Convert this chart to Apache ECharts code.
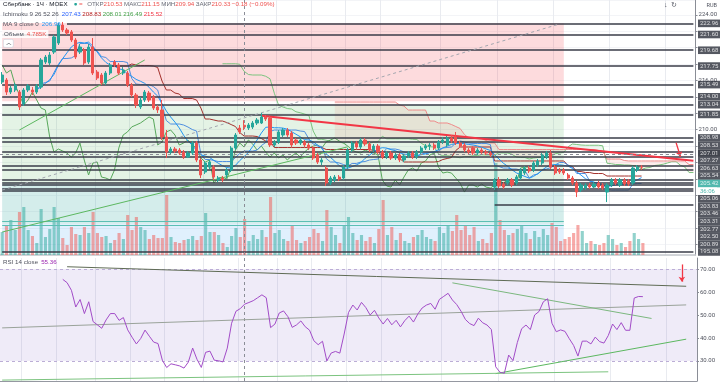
<!DOCTYPE html>
<html><head><meta charset="utf-8">
<script src="https://cdn.jsdelivr.net/npm/echarts@6.0.0/dist/echarts.min.js"></script>
<style>html,body{margin:0;padding:0;background:#fff;}#chart{width:720px;height:384px;}</style>
</head><body><div id="chart"></div>
<script>
// ---------- DATA ----------
const opens = [215.80,216.05,214.58,214.83,214.58,213.12,214.83,214.83,214.58,215.19,218.24,218.12,
219.46,220.56,222.76,222.15,221.91,220.93,219.46,219.71,218.24,220.07,217.02,216.66,215.68,216.90,218.24,217.88,
216.90,216.90,215.44,214.22,212.76,213.61,214.46,213.97,212.76,212.39,209.10,207.26,207.63,207.51,207.26,206.65,207.14,208.36,206.29,204.82,205.43,205.43,203.85,204.09,204.46,205.07,207.75,210.19,210.53,
210.19,210.31,210.80,210.80,211.54,211.41,208.12,208.49,209.34,209.95,209.58,208.73,208.36,208.49,208.12,207.75,206.90,206.04,205.31,203.48,203.85,204.21,204.09,205.43,207.51,208.36,207.87,208.73,208.24,207.51,207.99,207.26,206.65,207.14,206.53,206.90,206.29,206.78,207.14,206.65,207.26,
207.75,
207.99,208.12,207.75,208.49,208.12,208.97,209.10,208.36,208.12,
207.51,
207.75,207.14,207.51,207.26,207.14,202.99,203.85,203.36,203.48,203.85,203.48,204.09,204.70,205.31,205.07,205.68,205.92,206.65,207.14,205.43,205.07,205.07,204.46,204.09,203.48,202.63,202.87,203.24,
202.99,
203.48,203.24,202.38,203.24,203.85,203.24,203.85,203.73,203.48,205.07,205.43];
const highs = [217.02,216.29,215.32,215.68,214.83,215.07,215.56,215.19,215.56,218.73,219.10,219.46,
221.54,223.00,223.13,222.39,222.15,221.17,220.44,219.95,220.44,221.17,217.27,216.90,217.15,218.12,218.49,218.12,
217.63,217.15,215.68,214.46,213.97,214.83,214.71,214.22,213.00,213.61,209.95,207.87,207.87,207.75,207.51,207.39,208.61,208.61,206.53,206.17,206.29,205.68,204.34,204.34,205.31,207.99,209.58,210.56,211.15,
210.80,211.05,211.41,212.02,211.78,211.66,208.73,209.95,210.19,210.19,209.83,208.97,208.97,208.73,208.36,207.99,207.14,206.53,205.56,204.34,204.46,204.46,205.68,207.75,208.61,208.61,208.97,208.97,208.49,208.24,208.24,207.51,207.39,207.39,207.14,207.14,207.02,207.39,207.39,207.51,207.99,
208.24,
208.36,208.36,208.73,209.10,209.22,209.34,209.71,208.61,208.36,
207.75,
207.99,207.75,207.75,207.51,207.39,204.09,204.21,203.60,204.09,204.09,204.46,205.31,205.56,205.56,206.17,206.41,207.14,207.39,207.51,205.68,205.31,205.31,204.70,204.34,203.73,203.48,203.48,203.48,
203.60,
203.73,203.48,203.48,204.09,204.09,204.09,204.09,203.97,205.56,205.68,205.68];
const lows = [215.56,214.22,214.34,214.58,212.39,212.88,214.58,214.22,214.34,214.95,218.00,217.88,
219.22,220.32,221.91,221.54,220.69,218.61,219.22,217.88,218.00,216.66,216.05,215.44,215.44,216.66,217.63,216.66,
216.66,215.19,213.97,212.63,212.51,213.36,213.36,212.39,212.02,208.73,206.53,207.02,207.14,206.90,206.41,206.53,206.90,206.04,204.09,204.58,205.19,203.85,203.60,203.60,204.09,204.82,207.51,209.46,209.94,
209.95,210.07,210.56,210.68,211.05,207.87,207.87,208.24,209.10,209.10,207.87,208.12,208.12,207.87,207.51,206.29,205.80,205.68,203.12,203.24,203.60,203.73,203.85,205.19,207.26,207.63,207.63,207.99,207.26,207.26,207.02,206.41,206.41,206.29,206.29,206.04,206.04,206.53,206.41,206.41,207.02,
207.51,
207.51,207.51,207.51,208.24,207.87,208.36,208.12,207.75,207.26,
207.02,
206.90,206.90,207.02,206.90,206.65,202.63,202.87,202.75,203.24,202.99,203.24,203.85,204.46,204.70,204.82,205.43,205.68,206.41,205.19,204.46,204.58,204.46,203.85,203.24,201.77,202.38,202.63,202.75,
202.87,
202.75,202.63,201.16,202.99,203.24,202.99,203.12,203.12,203.24,204.82,205.07];
const closes = [216.66,214.58,215.07,215.44,212.76,214.83,215.32,214.58,215.32,218.49,218.85,219.10,
221.30,222.76,222.15,221.78,220.93,218.85,220.07,218.12,220.07,216.90,216.29,215.68,216.90,217.88,217.88,216.90,
217.27,215.44,214.22,213.00,213.61,214.58,213.61,212.63,212.39,209.10,207.26,207.63,207.39,207.14,206.65,207.14,208.36,206.29,204.46,205.92,206.04,204.21,204.09,203.85,205.07,207.75,209.34,209.71,210.33,
210.56,210.80,211.17,211.54,211.29,208.12,208.49,209.71,209.95,209.34,208.12,208.36,208.73,208.12,207.75,206.53,206.04,206.29,203.48,204.09,204.21,203.97,205.43,207.51,208.36,207.87,208.73,208.24,207.51,207.99,207.26,206.65,207.14,206.53,206.90,206.29,206.78,207.14,206.65,207.26,207.75,
207.99,
208.12,207.75,208.49,208.73,208.97,208.61,208.36,207.99,207.51,
207.26,
207.14,207.51,207.26,207.14,206.90,203.85,203.12,202.99,203.85,203.24,204.21,205.07,205.31,204.95,205.92,206.17,206.90,207.14,205.43,204.70,204.82,204.70,204.09,203.48,202.38,203.24,203.24,202.99,
203.36,
202.99,202.87,203.24,203.85,203.48,203.85,203.36,203.36,205.31,205.43,205.42];
// volume, thousands of lots
const volumes = [23,30,35,25,43,48,25,19,12,46,18,26,48,37,17,10,28,21,20,28,22,43,22,18,19,12,15,22,16,40,25,38,28,25,16,20,17,17,60,18,13,12,15,16,19,15,19,42,23,23,20,12,8,19,27,18,36,
14,20,16,25,18,58,22,25,16,14,30,15,12,14,18,26,22,14,45,28,20,12,30,38,22,15,20,14,18,12,26,55,20,28,15,22,14,12,18,20,25,
18,
16,14,28,22,30,24,40,25,30,
20,
28,14,16,12,22,92,35,25,20,22,26,30,22,16,24,18,26,20,32,28,14,16,18,22,30,24,12,14,
11,
10,12,20,16,10,12,8,14,22,16,12];

const levelPrices = [222.96,221.60,219.68,217.75,215.49,214.00,213.04,211.85,208.98,208.53,207.27,206.63,205.54,205.06,203.83,203.46,203.31,202.77,202.50,200.89,195.08];
const levelStarts = [15,0,0,0,0,0,0,0,0,0,0,0,0,0,0,0,0,0,0,114,0];
const priceTickLabels = [224, 216, 210];
const rsiTickLabels = [70, 60, 50, 40, 30];
const zoneBounds = [[223.00,213.45],[213.04,203.40],[203.40,198.50],[198.50,195.08]];
const zoneEndBar = 130;
const zoneEdges = [198.78, 198.28];
const lastPrice = 205.42;
const countdown = '36:06';
const crosshairBar = 56;
const crosshairPrice = 207.01;
const gridTicks = [5,13,22,30,38,47,55,64,72,80,88,102,115,128,141,154];
const emptyBarsAhead = 12;
// trend lines [bar, price] -> [bar, price]
const redTrend = [[60, 211.70],[160, 206.20]];
const dashedTrend = [[0, 202.63],[129, 222.88]];
const greenTrends = [[[0, 197.50],[80, 207.90]], [[4, 209.95],[33, 218.49]]];
const redArrow = [[156, 208.40],[157, 206.70]];
// RSI pane lines [bar, rsi]
const rsiTrends = [[[15,71.0],[158,62.5]], [[0,44.4],[158,54.4]], [[104,64.0],[150,48.5]], [[114,24.5],[158,39.5]], [[0,21.7],[140,25.3]]];
const rsiArrow = [[157,72.0],[157,64.5]];

// ---------- BUILD ----------
const FONT = 'Roboto, "Liberation Sans", Arial, sans-serif';
const N = closes.length;
const T = N + emptyBarsAhead;
const cats = Array.from({length: T}, (_, i) => String(i + 1));
const candleData = opens.map((o, i) => [o, closes[i], lows[i], highs[i]]);
const volData = volumes.map((v, i) => ({value: v, itemStyle: {color: closes[i] >= opens[i] ? 'rgba(38,166,154,0.5)' : 'rgba(239,83,80,0.5)'}}));

function midHL(i, n) {
  if (i < n - 1) return null;
  let h = -Infinity, l = Infinity;
  for (let k = i - n + 1; k <= i; k++) { h = Math.max(h, highs[k]); l = Math.min(l, lows[k]); }
  return (h + l) / 2;
}
const nul = () => new Array(T).fill(null);
const tenkan = nul(), kijun = nul(), spanA = nul(), spanB = nul(), chikou = nul(), ma9 = nul(), rsi = nul();
for (let i = 0; i < N; i++) {
  tenkan[i] = midHL(i, 9); kijun[i] = midHL(i, 26);
  if (i + 26 < T) {
    spanA[i + 26] = (tenkan[i] != null && kijun[i] != null) ? (tenkan[i] + kijun[i]) / 2 : null;
    spanB[i + 26] = midHL(i, 52);
  }
  if (i >= 26) chikou[i - 26] = closes[i];
  if (i >= 8) { let s = 0; for (let k = i - 8; k <= i; k++) s += closes[k]; ma9[i] = s / 9; }
}
{
  let ag = 0, al = 0;
  for (let i = 1; i <= 14; i++) { const d = closes[i] - closes[i - 1]; if (d > 0) ag += d; else al -= d; }
  ag /= 14; al /= 14; rsi[14] = 100 - 100 / (1 + ag / al);
  for (let i = 15; i < N; i++) {
    const d = closes[i] - closes[i - 1];
    ag = (ag * 13 + Math.max(d, 0)) / 14; al = (al * 13 + Math.max(-d, 0)) / 14;
    rsi[i] = al === 0 ? 100 : 100 - 100 / (1 + ag / al);
  }
}
const cloudBase = nul(), cloudUp = nul(), cloudDn = nul();
for (let i = 0; i < T; i++) {
  if (spanA[i] != null && spanB[i] != null) {
    cloudBase[i] = Math.min(spanA[i], spanB[i]);
    cloudUp[i] = spanA[i] > spanB[i] ? spanA[i] - spanB[i] : 0;
    cloudDn[i] = spanB[i] > spanA[i] ? spanB[i] - spanA[i] : 0;
  }
}

const seg = (a, b, style) => [{coord: a, lineStyle: style}, {coord: b}];
const mainMarks = [];
levelPrices.forEach((p, k) => mainMarks.push(seg([levelStarts[k], p], [T - 1, p], {color: '#3a3d48', width: 1.5, type: 'solid'})));
zoneEdges.forEach(p => mainMarks.push(seg([0, p], [zoneEndBar, p], {color: '#5cbfb4', width: 1, type: 'solid'})));
mainMarks.push(seg(dashedTrend[0], dashedTrend[1], {color: '#a3a6af', width: 1, type: [3, 3]}));
greenTrends.forEach(t => mainMarks.push(seg(t[0], t[1], {color: '#5cb860', width: 1, type: 'solid'})));
mainMarks.push(seg(redTrend[0], redTrend[1], {color: '#f23645', width: 2, type: 'solid'}));
mainMarks.push([{coord: redArrow[0], symbol: 'none', lineStyle: {color: '#f23645', width: 1.3, type: 'solid'}}, {coord: redArrow[1], symbol: 'arrow', symbolSize: 5}]);
mainMarks.push({xAxis: crosshairBar, lineStyle: {color: '#8a8d96', width: 1, type: [3, 3]}});
mainMarks.push({yAxis: crosshairPrice, lineStyle: {color: '#8a8d96', width: 1, type: [3, 3]}});

const rsiStyles = ['#5f6b55', '#9aa39a', '#7cb87f', '#5cb860', '#7cc47f'];
const rsiMarks = [
  {yAxis: 70, lineStyle: {color: '#bcaed6', type: [3, 3], width: 1}},
  {yAxis: 30, lineStyle: {color: '#bcaed6', type: [3, 3], width: 1}},
  {xAxis: crosshairBar, lineStyle: {color: '#8a8d96', width: 1, type: [3, 3]}}
];
rsiTrends.forEach((t, k) => rsiMarks.push(seg(t[0], t[1], {color: rsiStyles[k], width: 1, type: 'solid'})));
rsiMarks.push([{coord: rsiArrow[0], symbol: 'none', lineStyle: {color: '#f23645', width: 1.3, type: 'solid'}}, {coord: rsiArrow[1], symbol: 'arrow', symbolSize: 5}]);

// price-scale labels: levels, crosshair, last price, countdown
const labelItems = levelPrices.map(p => ({price: p, text: p.toFixed(2), bg: '#2a2e39', fg: '#ffffff', bias: 0}));
labelItems.push({price: crosshairPrice, text: crosshairPrice.toFixed(2), bg: '#131722', fg: '#ffffff', bias: -4});
labelItems.push({price: lastPrice, text: lastPrice.toFixed(2), bg: '#26a69a', fg: '#ffffff', bias: 0});
labelItems.push({price: lastPrice, text: countdown, bg: '#ffffff', fg: '#26a69a', bias: 0.5});
const priceLabelData = labelItems.map(it => ({value: [T - 1, it.price], label: {formatter: it.text, backgroundColor: it.bg, color: it.fg}}));
const labelY = new Array(labelItems.length).fill(null);
const LABEL_H = 7.6;

const lineS = (name, data, color, width) => ({name, type: 'line', xAxisIndex: 0, yAxisIndex: 0, data, symbol: 'none', silent: true, z: 3, lineStyle: {color, width: width || 1}, connectNulls: false});
const splitInt = (i) => gridTicks.indexOf(i) >= 0;

const option = {
  animation: false,
  backgroundColor: '#ffffff',
  textStyle: {fontFamily: FONT},
  grid: [
    {left: 0, right: 23, top: 0, height: 255},
    {left: 0, right: 23, top: 0, height: 255},
    {left: 0, right: 23, top: 258, height: 123}
  ],
  xAxis: [
    {type: 'category', gridIndex: 0, data: cats, boundaryGap: true, axisLabel: {show: false}, axisTick: {show: false},
     axisLine: {show: true, lineStyle: {color: '#c5c7cd', width: 1.5}}, splitLine: {show: true, interval: splitInt, lineStyle: {color: '#e9ebf0'}}},
    {type: 'category', gridIndex: 1, data: cats, boundaryGap: true, show: false},
    {type: 'category', gridIndex: 2, data: cats, boundaryGap: true, axisLabel: {show: false}, axisTick: {show: false},
     axisLine: {show: true, lineStyle: {color: '#9598a1'}}, splitLine: {show: true, interval: splitInt, lineStyle: {color: '#e9ebf0'}}}
  ],
  yAxis: [
    {type: 'value', gridIndex: 0, position: 'right', min: 194.7, max: 225.81, splitNumber: 15,
     axisLine: {show: true, lineStyle: {color: '#8a8d96'}}, axisTick: {show: true, length: 2, lineStyle: {color: '#8a8d96'}},
     axisLabel: {fontSize: 6, color: '#50535e', margin: 3, fontFamily: FONT, formatter: v => (priceTickLabels.some(t => Math.abs(t - v) < 1e-6) ? v.toFixed(2) : ''), showMinLabel: false, showMaxLabel: false},
     splitLine: {show: true, lineStyle: {color: '#f3f4f7'}}},
    {type: 'value', gridIndex: 1, min: 0, max: 255, show: false},
    {type: 'value', gridIndex: 2, position: 'right', min: 21.3, max: 74.8, splitNumber: 5,
     axisLine: {show: true, lineStyle: {color: '#8a8d96'}}, axisTick: {show: true, length: 2, lineStyle: {color: '#8a8d96'}},
     axisLabel: {fontSize: 6, color: '#50535e', margin: 3, fontFamily: FONT, formatter: v => (rsiTickLabels.some(t => Math.abs(t - v) < 1e-6) ? v.toFixed(2) : ''), showMinLabel: false, showMaxLabel: false},
     splitLine: {show: false}}
  ],
  series: [
    {type: 'line', xAxisIndex: 0, yAxisIndex: 0, data: closes, symbol: 'none', silent: true, z: 1, lineStyle: {opacity: 0},
     markArea: {silent: true, data: zoneBounds.map((zb, k) => [{coord: [0, zb[0]], itemStyle: {color: ['rgba(242,54,69,0.18)', 'rgba(76,175,80,0.15)', 'rgba(38,166,154,0.2)', 'rgba(33,150,243,0.14)'][k]}}, {coord: [zoneEndBar, zb[1]]}])}},
    {type: 'line', xAxisIndex: 0, yAxisIndex: 0, data: cloudBase, stack: 'cloud', symbol: 'none', silent: true, z: 2, lineStyle: {opacity: 0}},
    {type: 'line', xAxisIndex: 0, yAxisIndex: 0, data: cloudUp, stack: 'cloud', symbol: 'none', silent: true, z: 2, lineStyle: {opacity: 0}, areaStyle: {color: 'rgba(67,160,71,0.13)'}},
    {type: 'line', xAxisIndex: 0, yAxisIndex: 0, data: cloudDn, stack: 'cloud', symbol: 'none', silent: true, z: 2, lineStyle: {opacity: 0}, areaStyle: {color: 'rgba(244,67,54,0.13)'}},
    {type: 'bar', xAxisIndex: 1, yAxisIndex: 1, data: volData, barCategoryGap: '28%', silent: true, z: 1},
    lineS('spanA', spanA, '#7cc47f', 1),
    lineS('spanB', spanB, '#ef8a8a', 1),
    lineS('chikou', chikou, '#58a85b', 1),
    lineS('kijun', kijun, '#a3302c', 1),
    lineS('tenkan', tenkan, '#4f8fe0', 1),
    lineS('ma9', ma9, '#2196f3', 1),
    {type: 'candlestick', xAxisIndex: 0, yAxisIndex: 0, data: candleData, barWidth: '62%', z: 5, silent: true,
     itemStyle: {color: '#26a69a', color0: '#ef5350', borderColor: '#26a69a', borderColor0: '#ef5350', borderWidth: 1},
     markLine: {silent: true, symbol: ['none', 'none'], label: {show: false}, animation: false, data: mainMarks}},
    {type: 'line', xAxisIndex: 2, yAxisIndex: 2, data: rsi, symbol: 'none', silent: true, z: 5, lineStyle: {color: '#a24cc8', width: 1},
     markArea: {silent: true, itemStyle: {color: 'rgba(126,87,194,0.12)'}, data: [[{yAxis: 70}, {yAxis: 30}]]},
     markLine: {silent: true, symbol: ['none', 'none'], label: {show: false}, animation: false, data: rsiMarks}},
    {type: 'scatter', xAxisIndex: 0, yAxisIndex: 0, data: priceLabelData, symbolSize: 1, silent: true, z: 20, clip: false,
     itemStyle: {color: 'transparent'},
     label: {show: true, position: 'right', fontSize: 6, fontFamily: FONT, color: '#ffffff', backgroundColor: '#2a2e39', padding: [0.5, 2, 0.5, 2], lineHeight: 6.6},
     labelLayout: (p) => ({x: 698, y: labelY[p.dataIndex] != null ? labelY[p.dataIndex] : undefined, align: 'left', verticalAlign: 'middle'})}
  ],
  graphic: [
    {type: 'text', left: 3, top: 1, z: 100, style: {fontFamily: FONT, fontSize: 6.2, fill: '#131722',
      text: '{n|Сбербанк · 1Ч · MOEX}    {g|●} {r|=}   {l|ОТКР}{v|210.53} {l|МАКС}{v|211.15} {l|МИН}{v|209.94} {l|ЗАКР}{v|210.33} {v|−0.18 (−0.09%)}',
      rich: {n: {fill: '#131722', fontSize: 6.2}, l: {fill: '#6a6d78', fontSize: 6.2}, v: {fill: '#ef5350', fontSize: 6.2}, g: {fill: '#26a69a', fontSize: 6.2}, r: {fill: '#ef5350', fontSize: 6.2}}}},
    {type: 'text', left: 3, top: 11, z: 100, style: {fontFamily: FONT, fontSize: 6.2, fill: '#6a6d78',
      text: '{l|Ichimoku 9 26 52 26}  {b|207.43} {k|208.83} {gg|208.01} {gg|216.49} {rr|215.52}',
      rich: {l: {fill: '#50535e', fontSize: 6.2}, b: {fill: '#2962ff', fontSize: 6.2}, k: {fill: '#b71c1c', fontSize: 6.2}, gg: {fill: '#43a047', fontSize: 6.2}, rr: {fill: '#f23645', fontSize: 6.2}}}},
    {type: 'text', left: 3, top: 21, z: 100, style: {fontFamily: FONT, fontSize: 6.2, fill: '#50535e',
      text: '{l|MA 9 close 0}  {b|206.96}', rich: {l: {fill: '#50535e', fontSize: 6.2}, b: {fill: '#2196f3', fontSize: 6.2}}}},
    {type: 'text', left: 2, top: 30, z: 100, style: {fontFamily: FONT, fontSize: 6.2, fill: '#50535e', backgroundColor: 'rgba(255,255,255,0.85)', padding: [1, 2],
      text: '{l|Объем}  {r|4.785K}', rich: {l: {fill: '#50535e', fontSize: 6.2}, r: {fill: '#ef5350', fontSize: 6.2}}}},
    {type: 'rect', left: 3, top: 39, z: 100, shape: {width: 10, height: 8, r: 1.5}, style: {fill: '#ffffff', stroke: '#d1d4dc', lineWidth: 0.7}},
    {type: 'text', left: 5.5, top: 40, z: 101, style: {fontFamily: FONT, fontSize: 6, fill: '#131722', text: '︿'}},
    {type: 'text', left: 3, top: 259, z: 100, style: {fontFamily: FONT, fontSize: 6.2, fill: '#50535e',
      text: '{l|RSI 14 close}  {p|55.36}', rich: {l: {fill: '#50535e', fontSize: 6.2}, p: {fill: '#9c27b0', fontSize: 6.2}}}},
    {type: 'text', right: 3, top: 3, z: 100, style: {fontFamily: FONT, fontSize: 5.5, fill: '#50535e', text: 'RUB'}},
    {type: 'text', left: 664, top: 2, z: 100, style: {fontFamily: FONT, fontSize: 7, fill: '#50535e', text: '↓  ↻'}}
  ]
};
const chart = echarts.init(document.getElementById('chart'), null, {renderer: 'canvas'});
chart.setOption(option);

// stack the price-scale labels downward (as the price scale does), using the axis' own pixel mapping
const order = labelItems.map((it, i) => ({i, y: chart.convertToPixel({xAxisIndex: 0, yAxisIndex: 0}, [T - 1, it.price])[1] + it.bias}))
  .sort((a, b) => a.y - b.y);
let prevBottom = -Infinity;
order.forEach(o => {
  const top = Math.max(o.y - LABEL_H / 2, prevBottom);
  labelY[o.i] = top + LABEL_H / 2;
  prevBottom = top + LABEL_H;
});
chart.setOption({series: option.series});
</script>
</body></html>
